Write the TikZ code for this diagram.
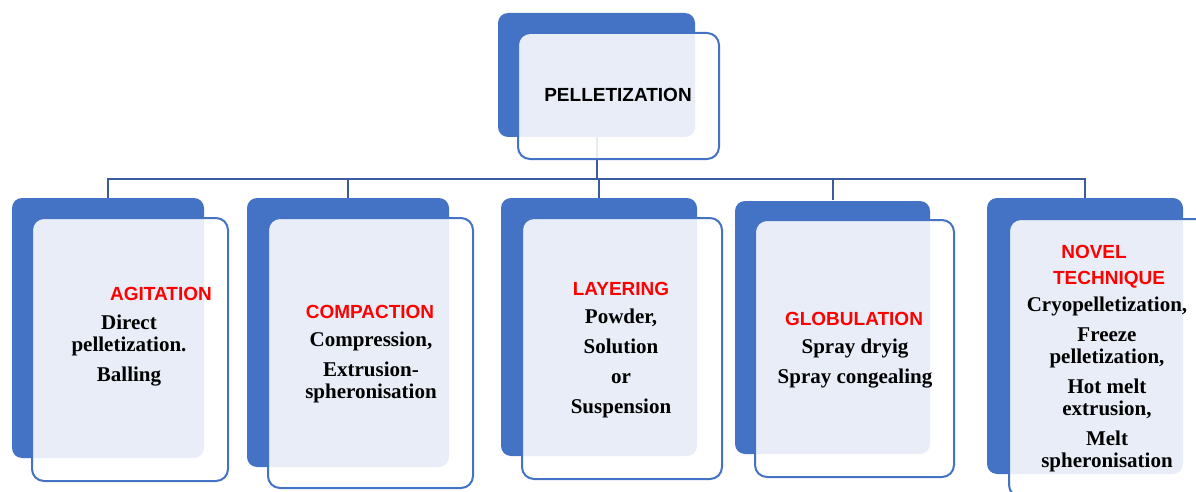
\documentclass[tikz,border=0pt]{standalone}
\usepackage{fontspec}
\setmainfont{Liberation Serif}
\newfontfamily\headfont{Liberation Sans}
\usetikzlibrary{arrows}
\definecolor{boxblue}{HTML}{4472C4}
\definecolor{linkblue}{HTML}{3A5C9E}
\definecolor{headred}{HTML}{FF0000}
\tikzset{
 blk_back/.style = {rectangle, rounded corners=10pt, fill=boxblue,
    inner sep=0pt, outer sep=0pt},% bloc du fond
 blk_front/.style = {rectangle, rounded corners=12pt, draw=boxblue,
    line width=2pt, fill=white, fill opacity=0.88, inner sep=0pt, outer sep=0pt},% cadre clair
 lbl_head/.style = {anchor=base, inner sep=0pt, text=headred,
    font=\headfont\bfseries\fontsize{19}{22}\selectfont},
 lbl_body/.style = {anchor=base, inner sep=0pt, align=center,
    font=\bfseries\fontsize{21}{22}\selectfont},% base = derniere ligne
 link/.style = {draw=linkblue, line width=2pt}
}

\begin{document}
\begin{tikzpicture}[x=1pt,y=-1pt]
  \useasboundingbox (0,0) rectangle (1196,492);
  \clip (0,0) rectangle (1196,492);
  % liaisons
  \coordinate (bus) at (596.5,179);
  \draw [link] (596.5,137) -- (bus);
  \foreach \b/\x in {agi/108,com/348,lay/599,glo/832.5,nov/1085}
    \draw [link] (bus) -| (\x,200);
  % blocs du fond
  \node [blk_back, minimum width=197pt, minimum height=124pt] (pelB) at (596.5,75) {};
  \node [blk_back, minimum width=192pt, minimum height=260pt] (agiB) at (108,328) {};
  \node [blk_back, minimum width=202pt, minimum height=269pt] (comB) at (348,332.5) {};
  \node [blk_back, minimum width=196pt, minimum height=258pt] (layB) at (599,327) {};
  \node [blk_back, minimum width=195pt, minimum height=253pt] (gloB) at (832.5,327.5) {};
  \node [blk_back, minimum width=196pt, minimum height=276pt] (novB) at (1085,336) {};
  % cadres clairs
  \node [blk_front, minimum width=201pt, minimum height=126pt] (pelF) at (618.5,96) {};
  \node [blk_front, minimum width=196pt, minimum height=263pt] (agiF) at (130,349.5) {};
  \node [blk_front, minimum width=205pt, minimum height=270pt] (comF) at (370.5,353) {};
  \node [blk_front, minimum width=200pt, minimum height=261pt] (layF) at (622,348.5) {};
  \node [blk_front, minimum width=199pt, minimum height=257pt] (gloF) at (854.5,348.5) {};
  \node [blk_front, minimum width=201pt, minimum height=278pt] (novF) at (1109.5,358) {};
  % textes
  \node [lbl_head, text=black] (pelT) at (618,102) {PELLETIZATION};
  \node [lbl_head] (agiT) at (161,300) {AGITATION};
  \node [lbl_body] (agiX) at (129,381) {Direct\\pelletization.\\[8pt]Balling};
  \node [lbl_head] (comT) at (370,318) {COMPACTION};
  \node [lbl_body] (comX) at (371,398) {Compression,\\[8pt]Extrusion-\\spheronisation};
  \node [lbl_head] (layT) at (621,295) {LAYERING};
  \node [lbl_body] (layX) at (621,413) {Powder,\\[8pt]Solution\\[8pt]or\\[8pt]Suspension};
  \node [lbl_head] (gloT) at (854,325) {GLOBULATION};
  \node [lbl_body] (gloX) at (855,383) {Spray dryig\\[8pt]Spray congealing};
  \node [lbl_head] (novT) at (1094,258) {NOVEL};
  \node [lbl_head] (novU) at (1109,284) {TECHNIQUE};
  \node [lbl_body] (novX) at (1107,467) {Cryopelletization,\\[8pt]Freeze\\pelletization,\\[8pt]Hot melt\\extrusion,\\[8pt]Melt\\spheronisation};
\end{tikzpicture}
\end{document}
